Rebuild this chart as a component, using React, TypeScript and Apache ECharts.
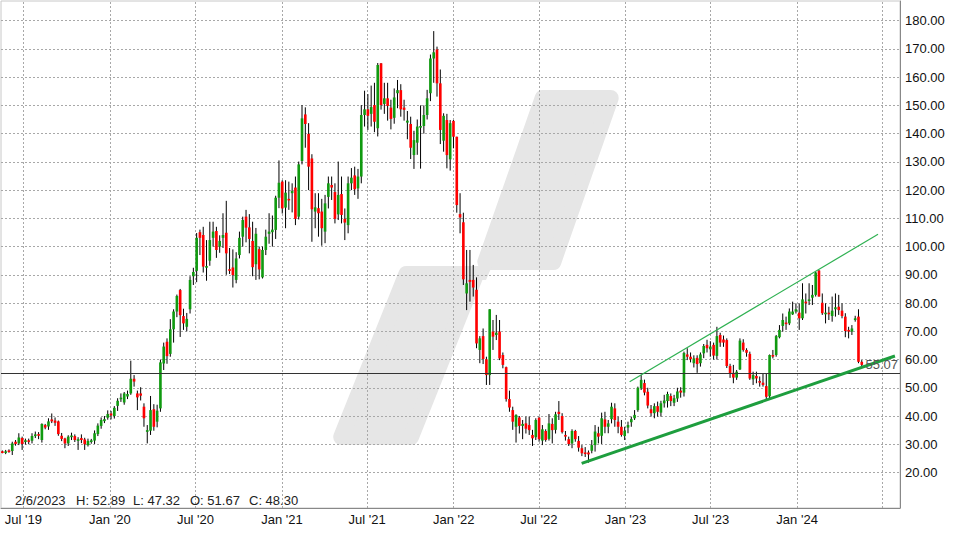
import React, { useEffect, useRef } from "react";
import * as echarts from "echarts";

// ---- data ----
const firstWeekFriday = "2019-05-17";
const openP = [
  27.5, 27.0, 27.8, 27.6, 30.9, 30.3, 32.2, 30.8, 31.4, 31.2,
  32.9, 33.6, 31.5, 36.8, 36.3, 38.8, 38.4, 38.1, 33.0, 32.0,
  30.3, 32.5, 32.9, 31.2, 32.2, 31.7, 29.7, 30.8, 31.3, 33.6,
  36.5, 38.2, 39.4, 40.9, 40.0, 43.6, 46.0, 44.8, 46.9, 48.0,
  53.2, 48.0, 48.0, 43.3, 34.4, 34.8, 42.4, 38.0, 42.7, 58.6,
  66.3, 62.0, 70.7, 77.0, 84.6, 75.4, 71.6, 77.8, 89.5, 91.4,
  105.1, 104.1, 92.5, 95.0, 103.1, 105.5, 100.0, 103.1, 104.9, 92.0,
  92.6, 88.2, 97.0, 103.5, 110.6, 106.8, 102.0, 93.7, 99.1, 89.1,
  98.8, 104.5, 105.1, 105.9, 117.3, 123.0, 113.8, 116.9, 118.9, 120.9,
  110.6, 130.3, 146.8, 139.9, 131.2, 112.4, 113.6, 112.4, 105.3, 117.6,
  121.8, 119.3, 111.4, 118.6, 109.8, 107.6, 122.4, 125.2, 120.6, 124.8,
  146.6, 148.6, 147.0, 150.1, 141.9, 164.9, 150.5, 152.5, 149.2, 145.6,
  154.3, 155.4, 149.2, 143.9, 143.4, 132.4, 136.8, 142.1, 142.7, 146.6,
  154.3, 166.6, 169.8, 157.8, 137.5, 144.8, 130.9, 144.5, 138.9, 111.5,
  108.6, 83.4, 88.2, 88.2, 84.7, 63.4, 68.3, 60.1, 54.5, 69.9,
  68.7, 69.9, 61.6, 57.3, 46.0, 42.1, 36.2, 39.5, 36.5, 37.4,
  36.8, 33.3, 32.5, 39.4, 31.3, 34.7, 31.9, 37.2, 35.1, 41.5,
  40.0, 33.3, 31.8, 30.3, 34.7, 31.2, 28.6, 27.1, 27.1, 27.7,
  29.7, 33.9, 33.0, 38.8, 36.2, 38.9, 42.7, 38.0, 36.2, 32.9,
  35.9, 37.8, 39.2, 42.1, 49.8, 51.67, 48.6, 42.4, 41.0, 43.5,
  41.2, 44.5, 45.3, 47.1, 44.7, 46.2, 49.0, 48.3, 61.8, 61.0,
  58.7, 60.6, 58.7, 62.2, 65.2, 63.6, 65.2, 61.3, 68.7, 67.1,
  66.9, 57.7, 55.3, 53.6, 56.5, 66.0, 63.4, 62.0, 53.0, 54.2,
  52.4, 51.8, 50.6, 47.0, 61.6, 61.6, 67.9, 71.9, 73.1, 72.8,
  76.0, 77.0, 76.6, 74.6, 80.5, 80.9, 81.9, 82.9, 91.5, 80.1,
  76.1, 76.6, 75.4, 77.8, 78.7, 77.3, 75.2, 70.5, 69.9, 74.0,
  75.2, 59.2,
];
const closeP = [
  27.2, 27.5, 27.3, 30.3, 30.1, 32.4, 30.1, 31.4, 30.9, 32.9,
  33.5, 33.0, 37.2, 35.9, 38.1, 38.1, 37.6, 33.6, 31.9, 30.3,
  32.7, 33.1, 31.5, 31.8, 31.5, 30.0, 31.2, 31.4, 33.9, 36.6,
  38.6, 38.9, 40.7, 40.2, 42.9, 45.4, 46.5, 48.0, 47.8, 53.2,
  52.2, 46.6, 47.2, 39.2, 35.0, 42.1, 36.2, 41.9, 59.0, 64.6,
  61.2, 70.7, 77.0, 82.5, 75.7, 72.8, 74.4, 88.2, 91.0, 103.1,
  103.1, 92.9, 93.1, 102.3, 105.3, 98.8, 102.0, 104.1, 97.6, 91.4,
  89.9, 95.8, 103.1, 109.4, 106.7, 102.7, 92.7, 104.5, 91.9, 98.8,
  103.5, 105.3, 106.0, 117.3, 122.6, 113.5, 119.1, 116.4, 119.7, 109.8,
  129.1, 145.4, 143.4, 128.3, 113.2, 113.9, 111.8, 106.5, 115.3, 122.4,
  120.9, 109.8, 118.3, 111.2, 108.5, 122.4, 124.4, 120.3, 124.8, 146.6,
  148.6, 146.3, 149.4, 144.2, 164.3, 150.1, 152.5, 149.8, 145.2, 152.8,
  155.4, 148.6, 148.4, 144.6, 135.0, 137.7, 142.5, 142.7, 146.6, 152.5,
  166.6, 168.8, 157.8, 141.3, 146.3, 132.4, 143.7, 138.9, 114.7, 110.3,
  88.4, 87.0, 87.5, 85.5, 65.7, 67.5, 60.2, 54.5, 77.8, 68.1,
  69.5, 60.4, 58.1, 46.0, 43.0, 38.0, 40.4, 36.5, 37.2, 35.5,
  35.0, 32.1, 38.6, 31.8, 35.3, 31.5, 37.4, 35.0, 40.6, 40.7,
  34.3, 32.7, 30.1, 34.7, 31.8, 28.8, 26.8, 26.6, 26.4, 29.7,
  34.5, 32.7, 39.2, 36.2, 37.4, 43.3, 38.6, 36.2, 33.3, 34.8,
  36.8, 38.9, 40.4, 50.0, 52.8, 48.30, 43.7, 41.0, 43.5, 41.5,
  44.5, 45.5, 47.8, 45.3, 46.3, 48.7, 48.3, 62.3, 61.0, 60.1,
  60.4, 58.4, 61.8, 64.8, 64.0, 64.6, 61.4, 68.3, 66.0, 66.0,
  57.7, 55.1, 53.6, 55.7, 66.7, 63.4, 62.4, 53.3, 54.5, 53.3,
  51.8, 51.0, 46.8, 61.6, 61.3, 68.3, 70.5, 74.0, 72.6, 77.0,
  77.0, 77.8, 74.6, 81.3, 79.9, 81.3, 82.9, 90.8, 82.3, 76.4,
  76.6, 76.1, 77.3, 78.5, 77.5, 75.4, 70.1, 69.9, 71.0, 74.6,
  59.2, 58.1,
];
const lowP = [
  26.8, 26.5, 27.0, 26.2, 29.5, 29.7, 28.0, 29.9, 30.0, 30.3,
  32.2, 31.8, 30.6, 35.3, 35.1, 37.5, 36.5, 33.0, 31.1, 28.6,
  29.4, 31.5, 30.8, 28.0, 30.4, 28.0, 29.2, 30.2, 30.1, 32.9,
  35.5, 37.5, 38.7, 38.8, 39.1, 41.8, 45.0, 44.0, 46.0, 47.5,
  50.4, 42.1, 45.5, 36.2, 30.3, 33.3, 34.8, 36.0, 41.5, 56.3,
  58.5, 61.0, 66.0, 75.0, 68.0, 70.5, 70.0, 76.3, 86.4, 87.4,
  97.0, 90.8, 87.9, 93.2, 100.0, 96.0, 97.8, 99.5, 90.0, 90.3,
  85.5, 87.0, 95.8, 100.0, 101.5, 97.6, 89.5, 88.2, 88.4, 88.7,
  97.0, 101.0, 100.0, 102.7, 113.6, 111.7, 106.5, 113.0, 112.1, 107.6,
  109.6, 129.1, 135.0, 120.0, 101.7, 106.5, 103.5, 100.3, 101.2, 113.5,
  116.5, 108.2, 109.4, 108.2, 102.3, 104.7, 120.0, 118.3, 116.9, 122.4,
  142.5, 141.3, 142.5, 140.5, 139.0, 148.5, 147.0, 144.6, 141.5, 143.5,
  149.0, 146.0, 144.6, 138.0, 131.0, 127.5, 132.5, 127.6, 140.0, 145.0,
  151.5, 158.0, 153.1, 136.3, 133.6, 127.7, 126.9, 134.8, 112.0, 104.7,
  86.4, 77.5, 80.5, 82.3, 64.0, 58.7, 58.4, 51.0, 51.0, 63.4,
  66.9, 59.8, 56.9, 45.1, 41.5, 35.1, 30.6, 33.8, 31.8, 33.8,
  33.3, 29.4, 31.5, 30.9, 29.7, 30.9, 31.3, 30.3, 33.8, 38.6,
  33.8, 31.3, 29.4, 28.6, 30.9, 27.4, 25.8, 25.5, 23.5, 26.8,
  27.4, 30.3, 30.1, 33.9, 33.9, 37.4, 36.2, 33.9, 32.7, 31.5,
  33.9, 36.2, 38.6, 41.5, 49.2, 47.32, 42.7, 39.8, 39.2, 39.8,
  39.8, 43.0, 43.0, 43.5, 43.5, 45.0, 46.5, 46.9, 59.8, 59.0,
  57.2, 55.3, 57.5, 60.5, 62.5, 61.0, 60.0, 60.0, 64.5, 64.5,
  57.0, 53.5, 51.6, 52.8, 56.3, 62.8, 61.0, 52.8, 51.0, 51.6,
  50.4, 50.4, 45.7, 45.7, 60.4, 61.0, 67.5, 69.9, 70.5, 72.2,
  75.8, 76.3, 70.5, 74.0, 76.3, 79.3, 79.3, 82.3, 82.3, 75.8,
  72.8, 74.0, 73.4, 75.2, 75.8, 74.6, 67.9, 67.5, 68.7, 73.4,
  58.7, 57.5,
];
const highP = [
  27.8, 28.0, 28.2, 30.9, 31.5, 33.9, 32.7, 32.0, 32.0, 33.9,
  34.5, 34.3, 37.4, 37.2, 39.2, 40.9, 39.5, 38.4, 34.0, 32.3,
  33.2, 34.1, 33.5, 32.5, 33.5, 32.3, 32.0, 31.9, 34.9, 37.4,
  39.5, 40.0, 42.0, 41.8, 43.5, 46.3, 48.0, 48.5, 49.0, 59.6,
  54.5, 49.0, 50.2, 44.5, 36.8, 47.1, 44.2, 44.0, 60.0, 66.0,
  67.5, 74.3, 77.8, 83.0, 85.0, 78.0, 76.5, 89.5, 92.5, 104.8,
  106.0, 107.0, 102.3, 108.8, 108.8, 107.0, 104.0, 111.8, 116.2, 99.5,
  99.0, 98.0, 105.3, 110.6, 113.0, 111.5, 108.8, 106.6, 100.0, 100.0,
  106.0, 111.8, 111.0, 118.0, 130.5, 123.5, 123.5, 123.0, 122.4, 124.8,
  130.1, 150.1, 149.3, 143.7, 132.7, 118.9, 118.9, 116.9, 118.3, 124.8,
  124.8, 122.4, 130.1, 124.8, 113.5, 124.8, 127.8, 128.3, 127.5, 150.1,
  155.2, 154.0, 157.0, 158.0, 165.0, 165.0, 158.0, 158.0, 152.0, 156.0,
  159.0, 157.5, 152.0, 148.0, 146.0, 141.0, 145.0, 150.0, 150.0, 155.5,
  168.0, 176.3, 170.8, 162.7, 147.2, 147.0, 144.8, 144.8, 138.9, 118.9,
  112.0, 98.8, 98.8, 93.5, 89.1, 68.3, 71.0, 61.0, 77.8, 74.0,
  75.8, 74.0, 62.5, 57.5, 49.0, 43.3, 40.6, 40.0, 38.6, 39.8,
  39.8, 35.1, 39.2, 39.8, 36.8, 35.3, 40.7, 39.2, 41.5, 45.3,
  41.0, 34.7, 32.7, 35.3, 35.1, 32.9, 29.7, 29.0, 27.8, 31.5,
  36.8, 36.2, 41.2, 41.5, 38.6, 44.7, 44.5, 39.8, 38.6, 36.2,
  38.0, 39.8, 42.1, 50.4, 54.5, 52.89, 50.0, 43.9, 44.5, 45.1,
  45.4, 47.5, 48.6, 48.0, 47.5, 50.0, 50.2, 62.8, 64.0, 62.5,
  61.5, 61.5, 62.5, 65.5, 67.0, 66.5, 66.0, 71.6, 69.5, 68.5,
  67.5, 58.5, 58.1, 56.3, 67.5, 67.2, 64.0, 62.8, 55.7, 55.7,
  54.0, 55.1, 55.1, 61.8, 63.4, 68.7, 72.2, 76.3, 75.2, 78.1,
  80.5, 79.9, 79.9, 87.0, 83.4, 87.0, 86.4, 91.1, 91.7, 83.4,
  79.9, 78.7, 82.3, 83.4, 82.9, 79.9, 76.4, 71.6, 72.2, 75.5,
  77.8, 59.8,
];

const yTicks = [20, 30, 40, 50, 60, 70, 80, 90, 100, 110, 120, 130, 140, 150, 160, 170, 180];
const xTickDates = [
  "2019-07-01", "2020-01-01", "2020-07-01", "2021-01-01", "2021-07-01", "2022-01-01",
  "2022-07-01", "2023-01-01", "2023-07-01", "2024-01-01", "2024-07-01",
];
const xTickLabels = [
  "Jul '19", "Jan '20", "Jul '20", "Jan '21", "Jul '21", "Jan '22",
  "Jul '22", "Jan '23", "Jul '23", "Jan '24", "",
];
const markerLevel = 55.07;
const upperTrend: [string, number][] = [["2023-01-10", 52.15], ["2024-06-21", 104.35]];
const lowerTrend: [string, number][] = [["2022-09-30", 23.26], ["2024-07-27", 61.25]];
const infoDate = "2/6/2023";
const infoIndex = 195;

// ---- styling ----
const FONT = "'Liberation Sans', Arial, Helvetica, sans-serif";
const UP = "#109a10";
const DOWN = "#ff0000";
const WEEK = 7 * 86400000;
const WM = "#e6e6e6";

function buildOption() {
  const t0 = Date.parse(firstWeekFriday) + 12 * 3600000;
  const candles = openP.map((o, i) => [t0 + i * WEEK, o, closeP[i], lowP[i], highP[i]]);

  const gridLines: any[] = [];
  yTicks.forEach((v) => {
    gridLines.push({
      yAxis: v,
      label: {
        show: true,
        position: "end",
        distance: 5,
        formatter: v.toFixed(2),
        color: "#111",
        fontSize: 13,
        fontFamily: FONT,
      },
    });
  });
  xTickDates.forEach((d, i) => {
    gridLines.push({
      xAxis: Date.parse(d),
      label: {
        show: xTickLabels[i] !== "",
        position: "start",
        distance: 5,
        formatter: xTickLabels[i],
        color: "#111",
        fontSize: 13,
        fontFamily: FONT,
      },
    });
  });

  const info = [
    infoDate,
    "H: " + highP[infoIndex].toFixed(2),
    "L: " + lowP[infoIndex].toFixed(2),
    "O: " + openP[infoIndex].toFixed(2),
    "C: " + closeP[infoIndex].toFixed(2),
  ];
  const infoX = [15, 76, 133, 190, 249];

  const wmStyle = { fill: WM, stroke: WM, lineWidth: 16, lineJoin: "round" };

  return {
    animation: false,
    backgroundColor: "#ffffff",
    textStyle: { fontFamily: FONT },
    grid: {
      left: 1,
      right: 53,
      top: 1,
      bottom: 28,
      show: true,
      borderColor: "#c8c8c8",
      borderWidth: 1,
      backgroundColor: "transparent",
    },
    xAxis: {
      type: "time",
      min: Date.UTC(2019, 4, 14, 14),
      max: Date.UTC(2024, 7, 6, 18),
      axisLine: { show: true, lineStyle: { color: "#888", width: 1 } },
      axisTick: { show: false },
      axisLabel: { show: false },
      splitLine: { show: false },
    },
    yAxis: {
      type: "value",
      position: "right",
      min: 7.43,
      max: 186.96,
      axisLine: { show: true, lineStyle: { color: "#888", width: 1 } },
      axisTick: { show: false },
      axisLabel: { show: false },
      splitLine: { show: false },
    },
    graphic: [
      {
        type: "polygon",
        z: -10,
        silent: true,
        shape: { points: [[542.7, 98], [610.7, 98], [553.3, 262], [485.3, 262]] },
        style: wmStyle,
      },
      {
        type: "polygon",
        z: -10,
        silent: true,
        shape: { points: [[406.4, 274], [476.2, 274], [411.0, 437], [341.2, 437]] },
        style: wmStyle,
      },
      {
        type: "polygon",
        z: -10,
        silent: true,
        shape: { points: [[470, 266], [492, 266], [486, 280], [466, 280]] },
        style: { fill: WM },
      },
      ...info.map((t, i) => ({
        type: "text",
        x: infoX[i],
        y: 500,
        z: 10,
        silent: true,
        style: {
          text: t,
          fill: "#222",
          fontSize: 13,
          fontFamily: FONT,
          verticalAlign: "middle",
        },
      })),
    ],
    series: [
      {
        type: "line",
        data: [],
        z: 1,
        silent: true,
        markLine: {
          silent: true,
          z: 1,
          symbol: ["none", "none"],
          animation: false,
          lineStyle: { type: [2, 2], color: "#a8a8a8", width: 1 },
          emphasis: { disabled: true },
          data: gridLines,
        },
      },
      {
        type: "custom",
        z: 3,
        silent: true,
        clip: true,
        data: candles,
        encode: { x: 0, y: [1, 2, 3, 4] },
        renderItem: (params: any, api: any) => {
          const t = api.value(0);
          const o = api.value(1);
          const c = api.value(2);
          const l = api.value(3);
          const h = api.value(4);
          const pO = api.coord([t, o]);
          const pC = api.coord([t, c]);
          const pL = api.coord([t, l]);
          const pH = api.coord([t, h]);
          const bw = api.size([WEEK, 0])[0] * 0.8;
          const x = pO[0];
          const top = Math.min(pO[1], pC[1]);
          const bh = Math.max(Math.abs(pO[1] - pC[1]), 1.6);
          return {
            type: "group",
            children: [
              {
                type: "line",
                shape: { x1: x, y1: pH[1], x2: x, y2: pL[1] },
                style: { stroke: "#000", lineWidth: 1 },
              },
              {
                type: "rect",
                shape: { x: x - bw / 2, y: top, width: bw, height: bh },
                style: { fill: c >= o ? UP : DOWN },
              },
            ],
          };
        },
        markLine: {
          silent: true,
          z: 5,
          symbol: ["none", "none"],
          animation: false,
          emphasis: { disabled: true },
          data: [
            {
              yAxis: markerLevel,
              lineStyle: { type: "solid", color: "#333", width: 1 },
              label: {
                show: true,
                position: "insideEndTop",
                distance: 2,
                formatter: markerLevel.toFixed(2),
                color: "#555",
                fontSize: 13,
                fontFamily: FONT,
              },
            },
            [
              {
                coord: [Date.parse(upperTrend[0][0]), upperTrend[0][1]],
                lineStyle: { type: "solid", color: "#2fb152", width: 1.2 },
                label: { show: false },
              },
              { coord: [Date.parse(upperTrend[1][0]), upperTrend[1][1]] },
            ],
            [
              {
                coord: [Date.parse(lowerTrend[0][0]), lowerTrend[0][1]],
                lineStyle: { type: "solid", color: "#1e9e3e", width: 3 },
                label: { show: false },
              },
              { coord: [Date.parse(lowerTrend[1][0]), lowerTrend[1][1]] },
            ],
          ],
        },
      },
    ],
  };
}

export default function App() {
  const ref = useRef<HTMLDivElement>(null);
  useEffect(() => {
    document.body.style.margin = "0";
    const chart = echarts.init(ref.current as HTMLDivElement, null, { renderer: "svg" });
    chart.setOption(buildOption() as any);
    return () => chart.dispose();
  }, []);
  return <div ref={ref} style={{ width: 953, height: 536 }} />;
}
